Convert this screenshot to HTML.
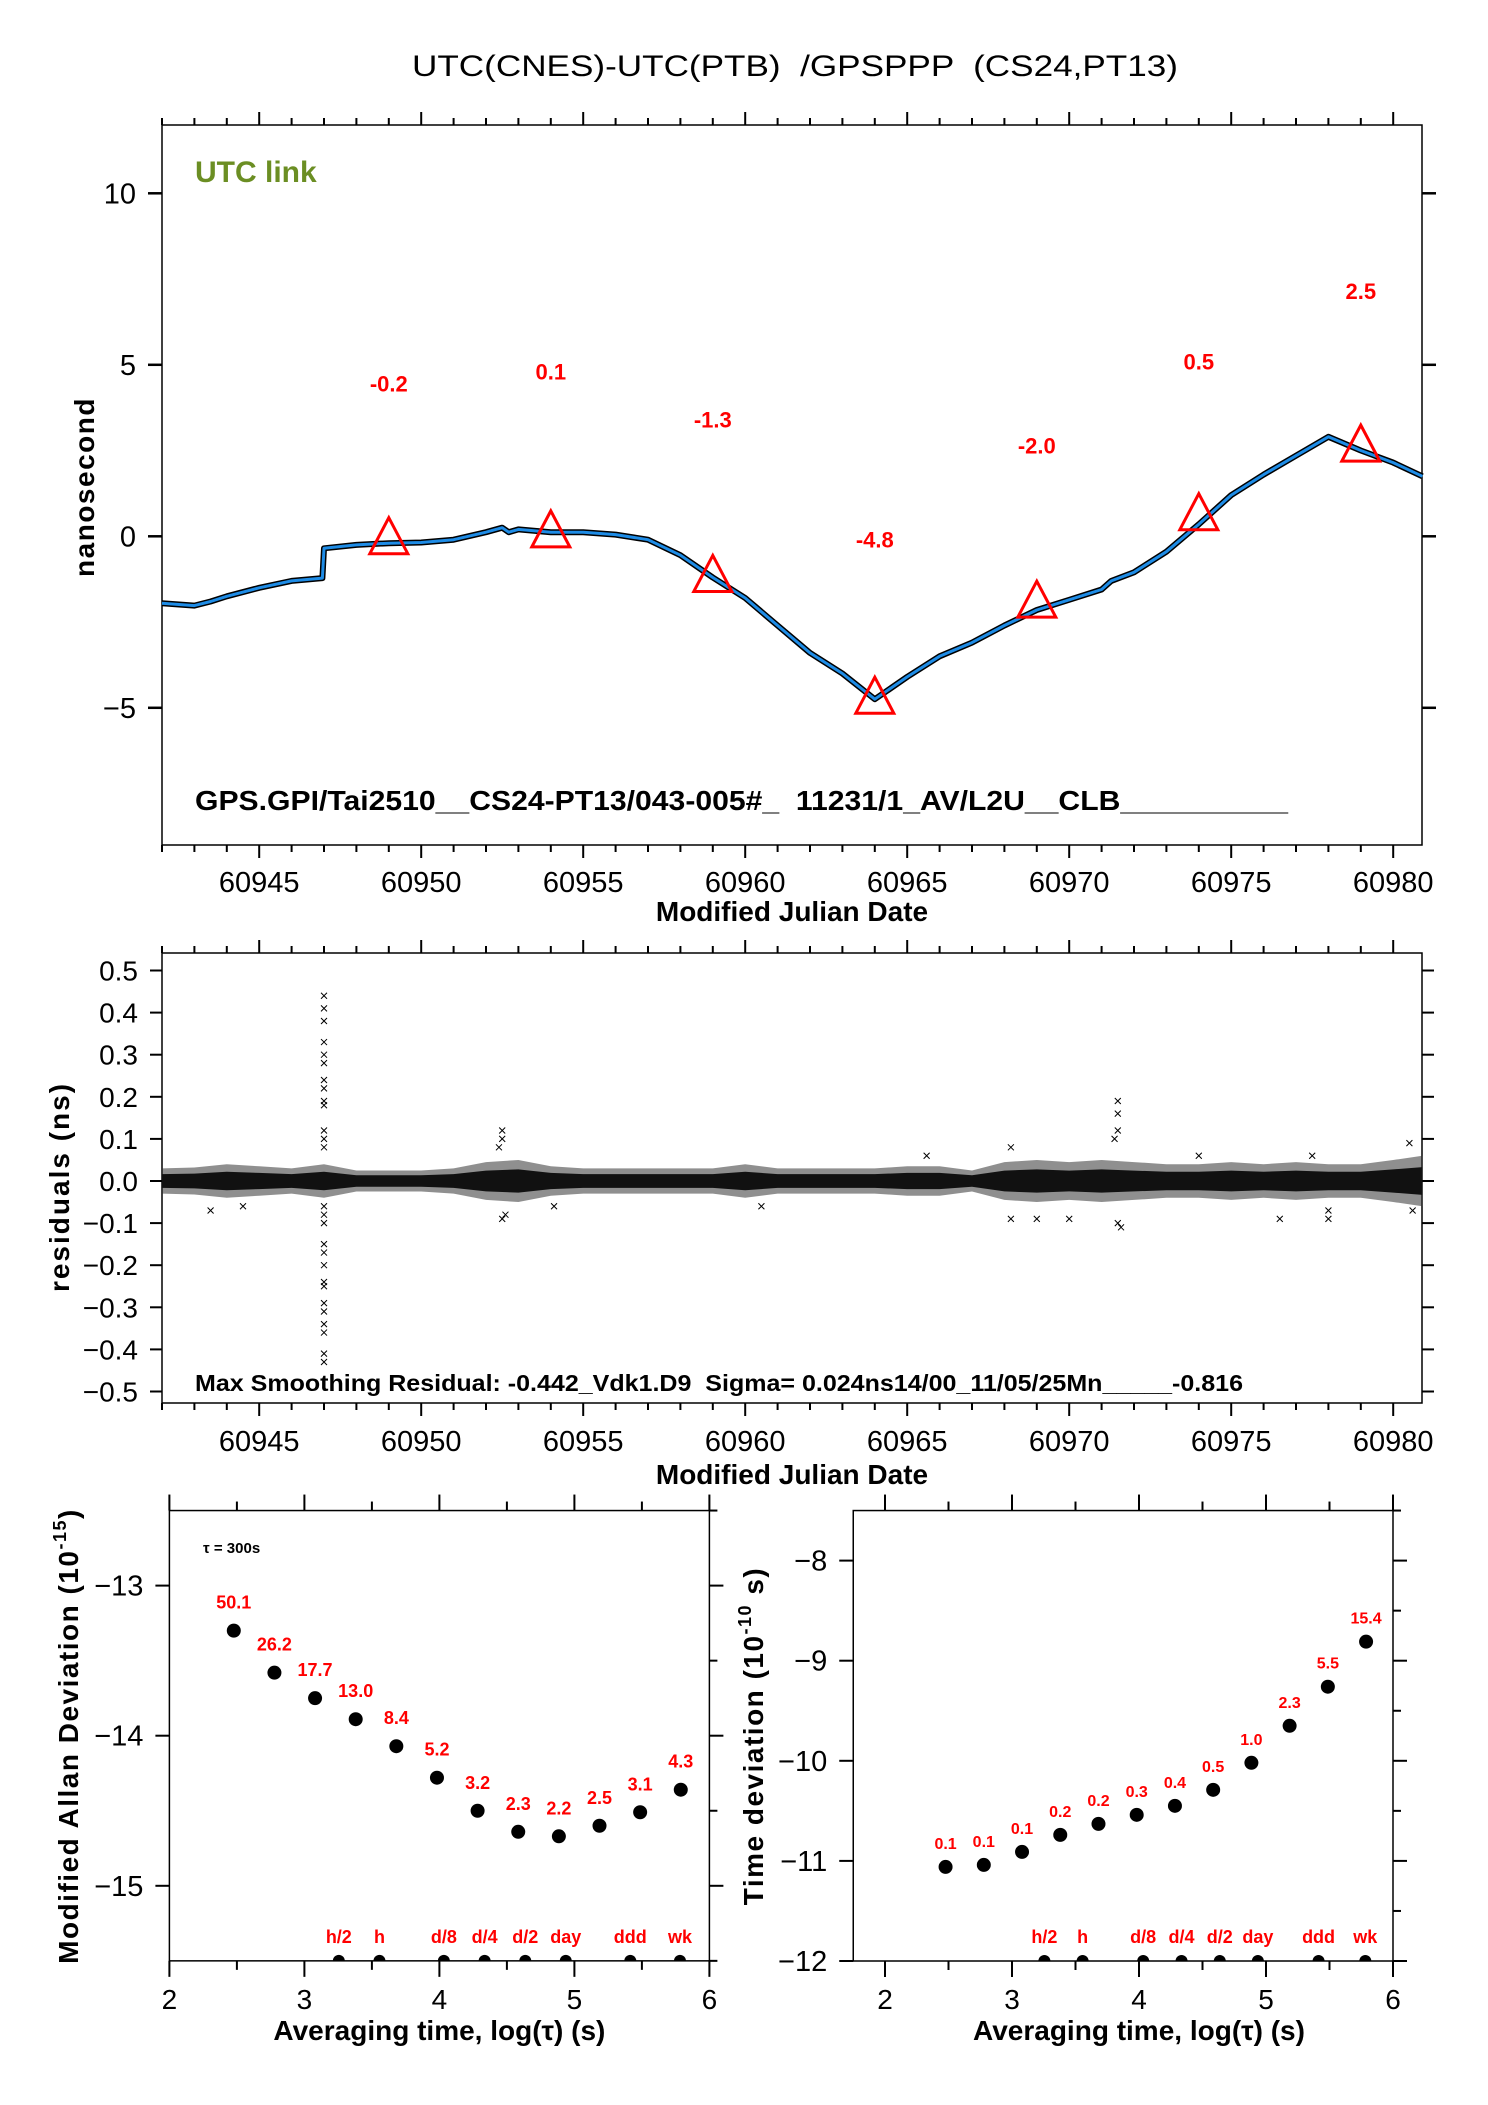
<!DOCTYPE html>
<html><head><meta charset="utf-8">
<style>
html,body{margin:0;padding:0;background:#fff;}
svg{display:block;font-family:"Liberation Sans",Arial,sans-serif;}
text{white-space:pre;}
</style></head>
<body>
<svg id="fig" width="1488" height="2105" viewBox="0 0 1488 2105" xmlns="http://www.w3.org/2000/svg" xml:space="preserve">
<rect x="0" y="0" width="1488" height="2105" fill="#fff"/>
<text x="795" y="76" font-size="30" text-anchor="middle" textLength="766" lengthAdjust="spacingAndGlyphs">UTC(CNES)-UTC(PTB)  /GPSPPP  (CS24,PT13)</text>
</svg>
<script>
// ---------- data ----------
const linkDays = [60942,60943,60943.5,60944,60945,60946,60946.95,60947.0,60948,60949,60950,60951,60952,60952.5,60952.7,60953,60954,60955,60956,60957,60958,60959,60960,60961,60962,60963,60964,60965,60966,60967,60968,60969,60970,60971,60971.3,60972,60973,60974,60975,60976,60977,60978,60979,60980,60980.9];
const linkValues = [-1.95,-2.02,-1.9,-1.75,-1.5,-1.3,-1.22,-0.35,-0.25,-0.2,-0.18,-0.1,0.12,0.25,0.12,0.2,0.12,0.12,0.05,-0.1,-0.55,-1.2,-1.8,-2.6,-3.4,-4.0,-4.75,-4.1,-3.5,-3.1,-2.6,-2.15,-1.85,-1.55,-1.3,-1.05,-0.45,0.35,1.2,1.8,2.35,2.9,2.5,2.15,1.75];
const triDays = [60949,60954,60959,60964,60969,60974,60979];
const triValues = [-0.1,0.1,-1.2,-4.75,-1.95,0.6,2.6];
const triLabels = ["-0.2","0.1","-1.3","-4.8","-2.0","0.5","2.5"];
const triLabelY = [4.45,4.8,3.4,-0.1,2.65,5.1,7.15];
const mjdTicks = [60945,60950,60955,60960,60965,60970,60975,60980];
const nsTicks = [-5,0,5,10];

const bandDays = [60942,60943,60944,60945,60946,60947,60948,60949,60950,60951,60952,60953,60954,60955,60956,60957,60958,60959,60960,60961,60962,60963,60964,60965,60966,60967,60968,60969,60970,60971,60972,60973,60974,60975,60976,60977,60978,60979,60980,60980.9];
const bandAmp = [0.03,0.032,0.04,0.035,0.03,0.04,0.025,0.025,0.025,0.03,0.045,0.05,0.035,0.03,0.03,0.03,0.03,0.03,0.04,0.03,0.03,0.03,0.03,0.035,0.035,0.025,0.045,0.05,0.045,0.05,0.045,0.04,0.04,0.045,0.04,0.045,0.04,0.04,0.05,0.06];
const outDays = [60947,60947,60947,60947,60947,60947,60947,60947,60947,60947,60947,60947,60947,60947,60947,60947,60947,60947,60947,60947,60947,60947,60947,60947,60947,60947,60947,60952.5,60952.5,60952.5,60952.4,60952.6,60971.5,60971.5,60971.5,60971.4,60971.5,60971.6,60943.5,60944.5,60968.2,60968.2,60969,60970,60976.5,60978,60978,60980.5,60980.6,60965.6,60960.5,60954.1,60974,60977.5];
const outValues = [0.44,0.41,0.38,0.33,0.30,0.28,0.24,0.22,0.19,0.18,0.12,0.10,0.08,-0.06,-0.08,-0.10,-0.15,-0.17,-0.20,-0.24,-0.25,-0.29,-0.31,-0.34,-0.36,-0.41,-0.43,0.12,0.10,-0.09,0.08,-0.08,0.19,0.16,0.12,0.10,-0.10,-0.11,-0.07,-0.06,0.08,-0.09,-0.09,-0.09,-0.09,-0.09,-0.07,0.09,-0.07,0.06,-0.06,-0.06,0.06,0.06];
const resTicks = [-0.5,-0.4,-0.3,-0.2,-0.1,0.0,0.1,0.2,0.3,0.4,0.5];
const resTickLabels = ["\u22120.5","\u22120.4","\u22120.3","\u22120.2","\u22120.1","0.0","0.1","0.2","0.3","0.4","0.5"];

const logTau = [2.477,2.778,3.079,3.380,3.681,3.982,4.283,4.584,4.885,5.186,5.487,5.788];
const madValues = [-13.30,-13.58,-13.75,-13.89,-14.07,-14.28,-14.50,-14.64,-14.67,-14.60,-14.51,-14.36];
const madLabels = ["50.1","26.2","17.7","13.0","8.4","5.2","3.2","2.3","2.2","2.5","3.1","4.3"];
const tdevValues = [-11.06,-11.04,-10.91,-10.74,-10.63,-10.54,-10.45,-10.29,-10.02,-9.65,-9.26,-8.81];
const tdevLabels = ["0.1","0.1","0.1","0.2","0.2","0.3","0.4","0.5","1.0","2.3","5.5","15.4"];
const markTau = [3.255,3.556,4.033,4.335,4.636,4.936,5.414,5.782];
const markLabels = ["h/2","h","d/8","d/4","d/2","day","ddd","wk"];
const xTicksLog = [2,3,4,5,6];
const madTicks = [-15,-14,-13];
const tdevTicks = [-12,-11,-10,-9,-8];

// ---------- axis functions ----------
const X = d => 162 + (d - 60942) * 32.4;
const Y = v => 536.3 - v * 34.3;
const Ym = v => 1181 - v * 421;
const Xb = v => 169.4 + (v - 2) * 135;
const Yb = v => 1585.6 - (v + 13) * 150.1;
const Xr = v => 885 + (v - 2) * 127;
const Yr = v => 1961 - (v + 12) * 100.1;

const svg = document.getElementById('fig');
const NS = 'http://www.w3.org/2000/svg';
function mk(tag, attrs, parent) {
  const e = document.createElementNS(NS, tag);
  for (const k in attrs) e.setAttribute(k, attrs[k]);
  (parent || svg).appendChild(e);
  return e;
}
function line(x1,y1,x2,y2,w,p){return mk('line',{x1,y1,x2,y2,stroke:'#000','stroke-width':w||1.5},p);}
function txt(s,x,y,size,anchor,weight,fill,p){const t=mk('text',{x,y,'font-size':size,'text-anchor':anchor||'middle','font-weight':weight||'normal',fill:fill||'#000'},p);t.textContent=s;return t;}

// ================= TOP PLOT =================
const gTop = mk('g',{});


const frameTop = mk('rect',{x:162,y:125,width:1260,height:720,fill:'none',stroke:'#000','stroke-width':1.5},gTop);


for (let d=60942; d<=60980; d++) {
  const major = d%5===0;
  const t1 = line(X(d),125,X(d),125-(major?13:7),2,gTop);
  
  
  const t2 = line(X(d),845,X(d),845+(major?13:7),2,gTop);
  
  
}
mjdTicks.forEach(d=>{
  const t = txt(String(d),X(d),892,29,'middle','normal','#000',gTop);
  
  
});
nsTicks.forEach(v=>{
  const a = line(148,Y(v),162,Y(v),2.5,gTop);
  
  
  const b = line(1422,Y(v),1436,Y(v),2.5,gTop);
  
  
  const t = txt(v<0?'\u2212'+Math.abs(v):String(v),136,Y(v)+10,29,'end','normal','#000',gTop);
  
  
});
const xt1 = txt('Modified Julian Date',792,921,28,'middle','bold','#000',gTop);


const yt1 = txt('nanosecond',0,0,28,'middle','bold','#000',gTop);
yt1.setAttribute('transform','translate(94,487) rotate(-90)');
yt1.setAttribute('letter-spacing','1.5');


const utc = txt('UTC link',195,182,30,'start','bold','#6b8e23',gTop);


const foot = txt('GPS.GPI/Tai2510__CS24-PT13/043-005#_  11231/1_AV/L2U__CLB__________',195,810,28,'start','bold','#000',gTop);
foot.setAttribute('textLength','1093');
foot.setAttribute('lengthAdjust','spacingAndGlyphs');



let pts = linkDays.map((d,i)=>X(d).toFixed(1)+','+Y(linkValues[i]).toFixed(1)).join(' ');
const lineBlack = mk('polyline',{points:pts,fill:'none',stroke:'#000','stroke-width':6,'stroke-linejoin':'round'},gTop);


const lineBlue = mk('polyline',{points:pts,fill:'none',stroke:'#1e8ce6','stroke-width':3,'stroke-linejoin':'round'},gTop);


triDays.forEach((d,i)=>{
  const cx=X(d), cy=Y(triValues[i]);
  const tri = mk('polygon',{points:`${cx},${cy-22} ${cx-19},${cy+14} ${cx+19},${cy+14}`,fill:'none',stroke:'#ff0000','stroke-width':3},gTop);
  
  
  const l = txt(triLabels[i],cx,Y(triLabelY[i])+8,22,'middle','bold','#ff0000',gTop);
  
  
});

// ================= RESIDUALS =================
const gMid = mk('g',{});


const frameMid = mk('rect',{x:162,y:953,width:1260,height:450,fill:'none',stroke:'#000','stroke-width':1.5},gMid);


for (let d=60942; d<=60980; d++) {
  const major = d%5===0;
  const t1 = line(X(d),953,X(d),953-(major?13:7),2,gMid);
  
  
  const t2 = line(X(d),1403,X(d),1403+(major?13:7),2,gMid);
  
  
}
mjdTicks.forEach(d=>{
  const t = txt(String(d),X(d),1451,29,'middle','normal','#000',gMid);
  
  
});
resTicks.forEach((v,i)=>{
  const a = line(150,Ym(v),162,Ym(v),2,gMid);
  
  
  const b = line(1422,Ym(v),1434,Ym(v),2,gMid);
  
  
  const t = txt(resTickLabels[i],138,Ym(v)+10,28,'end','normal','#000',gMid);
  
  
});
const xt2 = txt('Modified Julian Date',792,1484,28,'middle','bold','#000',gMid);


const yt2 = txt('residuals (ns)',0,0,28,'middle','bold','#000',gMid);
yt2.setAttribute('transform','translate(69,1187) rotate(-90)');
yt2.setAttribute('letter-spacing','2');


// band (outer lighter, inner dense)
let up = bandDays.map((d,i)=>X(d).toFixed(1)+','+Ym(bandAmp[i]).toFixed(1));
let dn = bandDays.map((d,i)=>X(d).toFixed(1)+','+Ym(-bandAmp[i]).toFixed(1)).reverse();
const band = mk('polygon',{points:up.concat(dn).join(' '),fill:'#333','fill-opacity':0.55},gMid);


let up2 = bandDays.map((d,i)=>X(d).toFixed(1)+','+Ym(bandAmp[i]*0.55).toFixed(1));
let dn2 = bandDays.map((d,i)=>X(d).toFixed(1)+','+Ym(-bandAmp[i]*0.55).toFixed(1)).reverse();
const core = mk('polygon',{points:up2.concat(dn2).join(' '),fill:'#111'},gMid);


outDays.forEach((d,i)=>{
  const cx=X(d), cy=Ym(outValues[i]);
  const m = mk('path',{d:`M${cx-3},${cy-3}L${cx+3},${cy+3}M${cx-3},${cy+3}L${cx+3},${cy-3}`,stroke:'#000','stroke-width':1},gMid);
  
  
});
const rinfo = txt('Max Smoothing Residual: -0.442_Vdk1.D9  Sigma= 0.024ns14/00_11/05/25Mn_____-0.816',195,1391,23,'start','bold','#000',gMid);
rinfo.setAttribute('textLength','1048');
rinfo.setAttribute('lengthAdjust','spacingAndGlyphs');



// ================= STABILITY PLOTS =================
function stab(name, xf, yf, x0, x1, y0, y1, yTicks, vals, labels, ytitle, ytx, labelDy) {
  const g = mk('g',{});
  
  
  const L=xf(x0),R=xf(x1),T=yf(y1),B=yf(y0);
  const fr = mk('rect',{x:L,y:T,width:R-L,height:B-T,fill:'none',stroke:'#000','stroke-width':1.5},g);
  
  
  for (let v=2; v<=6; v+=0.5) {
    const major = Number.isInteger(v);
    const a = line(xf(v),T,xf(v),T-(major?16:9),2,g);
    
    
    const b = line(xf(v),B,xf(v),B+(major?16:9),2,g);
    
    
  }
  xTicksLog.forEach(v=>{
    const t = txt(String(v),xf(v),2009,28,'middle','normal','#000',g);
    
    
  });
  for (let v=Math.ceil(y0*2)/2; v<=y1; v+=0.5) {
    const major = Number.isInteger(v);
    if (major) {
      const a = line(L-14,yf(v),L,yf(v),2,g);
      
      
    }
    const b = line(R,yf(v),R+(major?14:8),yf(v),2,g);
    
    
  }
  yTicks.forEach(v=>{
    const t = txt('\u2212'+Math.abs(v),L-26,yf(v)+10,29,'end','normal','#000',g);
    
    
  });
  const xt = txt('Averaging time, log(\u03c4) (s)',(xf(2)+xf(6))/2,2040,28,'middle','bold','#000',g);
  
  
  const yt = mk('text',{x:0,y:0,'font-size':28,'text-anchor':'middle','font-weight':'bold','letter-spacing':'1.5',transform:`translate(${ytx},1736) rotate(-90)`},g);
  yt.innerHTML = ytitle;
  
  
  logTau.forEach((v,i)=>{
    const c = mk('circle',{cx:xf(v),cy:yf(vals[i]),r:7,fill:'#000'},g);
    
    
    const t = txt(labels[i],xf(v),yf(vals[i])+labelDy,labelDy<-20?18:16,'middle','bold','#ff0000',g);
    
    
  });
  markTau.forEach((v,i)=>{
    const c = mk('path',{d:`M${xf(v)-6},${B} A6 6 0 0 1 ${xf(v)+6},${B} Z`,fill:'#000'},g);
    
    
    const t = txt(markLabels[i],xf(v),B-18,18,'middle','bold','#ff0000',g);
    
    
  });
  return g;
}
stab('mod-allan-chart', Xb, Yb, 2, 6, -15.5, -12.5, madTicks, madValues, madLabels,
  'Modified Allan Deviation (10<tspan font-size="18" dy="-12">-15</tspan><tspan dy="12">)</tspan>', 78, -22);
stab('time-deviation-chart', Xr, Yr, 1.75, 6, -12, -7.5, tdevTicks, tdevValues, tdevLabels,
  'Time deviation (10<tspan font-size="18" dy="-12">-10</tspan><tspan dy="12"> s)</tspan>', 763, -18);
const tau = txt('\u03c4 = 300s',203,1553,15,'start','bold','#000');


</script>
</body></html>
